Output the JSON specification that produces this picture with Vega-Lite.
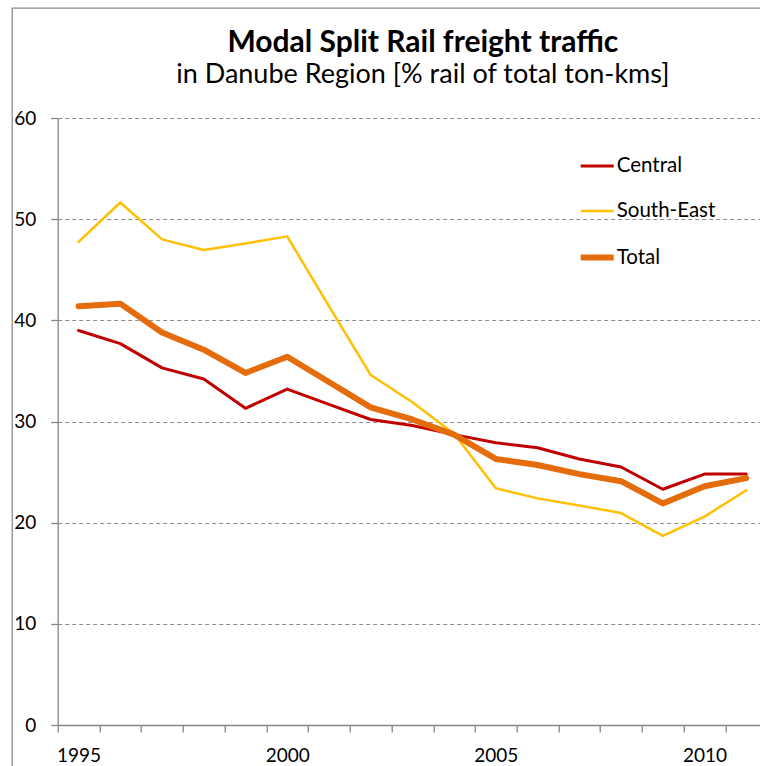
{
  "$schema": "https://vega.github.io/schema/vega-lite/v6.json",
  "autosize": {"type": "none"},
  "padding": {"left": 57.7, "top": 118, "right": 0, "bottom": 41},
  "width": 702.3,
  "height": 607,
  "background": "white",
  "config": {"view": {"stroke": null}, "font": "Lato"},
  "title": {
    "text": "Modal Split Rail freight traffic",
    "subtitle": "in Danube Region [% rail of total ton-kms]",
    "anchor": "middle",
    "font": "Lato",
    "fontSize": 30,
    "fontWeight": "bold",
    "color": "#000000",
    "subtitleFont": "Lato",
    "subtitleFontSize": 27,
    "subtitleColor": "#000000",
    "subtitlePadding": 4,
    "offset": -81,
    "dx": 14
  },
  "data": {
    "values": [
      {"year": 1995, "series": "Central", "value": 39.0},
      {"year": 1996, "series": "Central", "value": 37.7},
      {"year": 1997, "series": "Central", "value": 35.3},
      {"year": 1998, "series": "Central", "value": 34.2},
      {"year": 1999, "series": "Central", "value": 31.3},
      {"year": 2000, "series": "Central", "value": 33.2},
      {"year": 2001, "series": "Central", "value": 31.7},
      {"year": 2002, "series": "Central", "value": 30.2},
      {"year": 2003, "series": "Central", "value": 29.6},
      {"year": 2004, "series": "Central", "value": 28.7},
      {"year": 2005, "series": "Central", "value": 27.9},
      {"year": 2006, "series": "Central", "value": 27.4},
      {"year": 2007, "series": "Central", "value": 26.3},
      {"year": 2008, "series": "Central", "value": 25.5},
      {"year": 2009, "series": "Central", "value": 23.3},
      {"year": 2010, "series": "Central", "value": 24.8},
      {"year": 2011, "series": "Central", "value": 24.8},
      {"year": 1995, "series": "South-East", "value": 47.75},
      {"year": 1996, "series": "South-East", "value": 51.65},
      {"year": 1997, "series": "South-East", "value": 48.0},
      {"year": 1998, "series": "South-East", "value": 46.95},
      {"year": 1999, "series": "South-East", "value": 47.6},
      {"year": 2000, "series": "South-East", "value": 48.3},
      {"year": 2001, "series": "South-East", "value": 41.4},
      {"year": 2002, "series": "South-East", "value": 34.6},
      {"year": 2003, "series": "South-East", "value": 31.9},
      {"year": 2004, "series": "South-East", "value": 28.8},
      {"year": 2005, "series": "South-East", "value": 23.4},
      {"year": 2006, "series": "South-East", "value": 22.4},
      {"year": 2007, "series": "South-East", "value": 21.7},
      {"year": 2008, "series": "South-East", "value": 20.95},
      {"year": 2009, "series": "South-East", "value": 18.7},
      {"year": 2010, "series": "South-East", "value": 20.6},
      {"year": 2011, "series": "South-East", "value": 23.2},
      {"year": 1995, "series": "Total", "value": 41.4},
      {"year": 1996, "series": "Total", "value": 41.65},
      {"year": 1997, "series": "Total", "value": 38.8},
      {"year": 1998, "series": "Total", "value": 37.1},
      {"year": 1999, "series": "Total", "value": 34.8},
      {"year": 2000, "series": "Total", "value": 36.4},
      {"year": 2001, "series": "Total", "value": 33.9},
      {"year": 2002, "series": "Total", "value": 31.4},
      {"year": 2003, "series": "Total", "value": 30.2},
      {"year": 2004, "series": "Total", "value": 28.7},
      {"year": 2005, "series": "Total", "value": 26.3},
      {"year": 2006, "series": "Total", "value": 25.7},
      {"year": 2007, "series": "Total", "value": 24.8},
      {"year": 2008, "series": "Total", "value": 24.1},
      {"year": 2009, "series": "Total", "value": 21.9},
      {"year": 2010, "series": "Total", "value": 23.6},
      {"year": 2011, "series": "Total", "value": 24.4}
    ]
  },
  "layer": [
    {
      "data": {"values": [{}]},
      "mark": {"type": "rect", "filled": false, "stroke": "#8c8c8c", "strokeWidth": 1.3, "clip": false},
      "encoding": {
        "x": {"datum": 1993.41, "type": "quantitative"},
        "x2": {"datum": 2013},
        "y": {"datum": 70.87, "type": "quantitative"},
        "y2": {"datum": -6}
      }
    },
    {
      "mark": {"type": "line", "strokeJoin": "round", "strokeCap": "round"},
      "encoding": {
        "x": {
          "field": "year",
          "type": "quantitative",
          "scale": {"domain": [1994.5, 2011.33], "nice": false, "zero": false},
          "axis": {
            "title": null,
            "values": [1994.5, 1995.5, 1996.5, 1997.5, 1998.5, 1999.5, 2000.5, 2001.5, 2002.5, 2003.5, 2004.5, 2005.5, 2006.5, 2007.5, 2008.5, 2009.5, 2010.5],
            "labelExpr": "((datum.value + 0.5) % 5 == 0) ? toString(datum.value + 0.5) : ''",
            "labelOffset": 20.86,
            "tickSize": 7,
            "labelPadding": 14,
            "domainColor": "#868686",
            "tickColor": "#868686",
            "domainWidth": 1.3,
            "tickWidth": 1.3,
            "grid": false,
            "labelFont": "Lato",
            "labelFontSize": 19,
            "labelColor": "#000000",
            "labelOverlap": false,
            "labelFlush": false,
            "labelBound": false
          }
        },
        "y": {
          "field": "value",
          "type": "quantitative",
          "scale": {"domain": [0, 60], "nice": false},
          "axis": {
            "title": null,
            "values": [0, 10, 20, 30, 40, 50, 60],
            "grid": true,
            "gridDash": [4, 3],
            "gridColor": "#8c8c8c",
            "gridWidth": 1.2,
            "tickSize": 7,
            "labelPadding": 15,
            "domainColor": "#868686",
            "tickColor": "#868686",
            "domainWidth": 1.3,
            "tickWidth": 1.3,
            "labelFont": "Lato",
            "labelFontSize": 19,
            "labelColor": "#000000"
          }
        },
        "color": {
          "field": "series",
          "type": "nominal",
          "scale": {"domain": ["Central", "South-East", "Total"], "range": ["#C00000", "#FFC000", "#E46C0A"]},
          "legend": {
            "orient": "none", "legendX": 520, "legendY": 30, "title": null,
            "symbolType": "stroke", "symbolSize": 1089,
            "labelFont": "Lato", "labelFontSize": 20.5, "labelColor": "#000000",
            "labelOffset": 0, "rowPadding": 13, "padding": 0,
            "columns": 1, "gridAlign": "all"
          }
        },
        "strokeWidth": {
          "field": "series",
          "type": "nominal",
          "scale": {"type": "ordinal", "domain": ["Central", "South-East", "Total"], "range": [3, 2.5, 6]},
          "legend": {
            "orient": "none", "legendX": 520, "legendY": 30, "title": null,
            "symbolType": "stroke", "symbolSize": 1089,
            "labelFont": "Lato", "labelFontSize": 20.5, "labelColor": "#000000",
            "labelOffset": 0, "rowPadding": 13, "padding": 0,
            "columns": 1, "gridAlign": "all"
          }
        }
      }
    }
  ]
}
